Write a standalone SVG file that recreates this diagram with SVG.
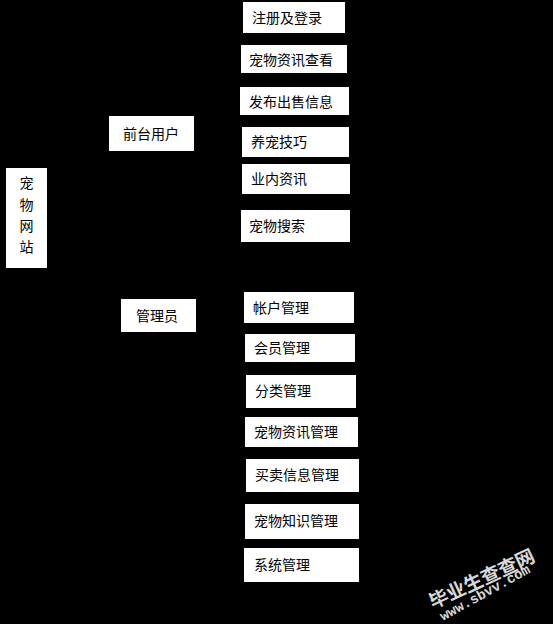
<svg xmlns="http://www.w3.org/2000/svg" width="553" height="624" viewBox="0 0 553 624">
<style>
.box{fill:#ffffff;stroke:none}
.t{font-family:"Noto Sans CJK SC","Liberation Sans",sans-serif;font-size:14px;fill:#000000}
.wm{font-family:"Noto Sans CJK SC","Liberation Sans",sans-serif;font-weight:bold;fill:#d8d8d8}
.wu{font-family:"Liberation Mono",monospace;font-weight:bold;fill:#d8d8d8}
.c{stroke:#000000;stroke-width:1.5;fill:none}
</style>
<rect x="0" y="0" width="553" height="624" fill="#000000"/>
<g id="connectors">
<line class="c" x1="191.5" y1="135.5" x2="200" y2="135.5"/>
</g>
<g id="n-site"><rect class="box" x="6" y="168" width="41" height="100"/>
<text class="t" x="26.5" y="188" text-anchor="middle">宠</text>
<text class="t" x="26.5" y="210" text-anchor="middle">物</text>
<text class="t" x="26.5" y="231" text-anchor="middle">网</text>
<text class="t" x="26.5" y="252" text-anchor="middle">站</text></g>
<g id="n-front"><rect class="box" x="109" y="116" width="85" height="35"/><text class="t" x="123" y="138.5">前台用户</text></g>
<g id="n-admin"><rect class="box" x="121" y="299" width="75" height="33"/><text class="t" x="136" y="320.5">管理员</text></g>
<g id="n1"><rect class="box" x="243" y="2" width="102" height="31"/><text class="t" x="252" y="22.5">注册及登录</text></g>
<g id="n2"><rect class="box" x="241" y="45" width="106" height="28"/><text class="t" x="249" y="64.5">宠物资讯查看</text></g>
<g id="n3"><rect class="box" x="240" y="87" width="109" height="28"/><text class="t" x="249" y="106.5">发布出售信息</text></g>
<g id="n4"><rect class="box" x="242" y="127" width="107" height="30"/><text class="t" x="251" y="147">养宠技巧</text></g>
<g id="n5"><rect class="box" x="242" y="164" width="108" height="30"/><text class="t" x="251" y="184">业内资讯</text></g>
<g id="n6"><rect class="box" x="241" y="210" width="109" height="32"/><text class="t" x="249" y="231">宠物搜索</text></g>
<g id="m1"><rect class="box" x="244" y="292" width="110" height="31"/><text class="t" x="253" y="312.5">帐户管理</text></g>
<g id="m2"><rect class="box" x="245" y="334" width="110" height="28"/><text class="t" x="254" y="353">会员管理</text></g>
<g id="m3"><rect class="box" x="246" y="375" width="110" height="33"/><text class="t" x="255" y="396">分类管理</text></g>
<g id="m4"><rect class="box" x="245" y="417" width="113" height="30"/><text class="t" x="254" y="437">宠物资讯管理</text></g>
<g id="m5"><rect class="box" x="246" y="459" width="113" height="33"/><text class="t" x="255" y="480">买卖信息管理</text></g>
<g id="m6"><rect class="box" x="245" y="504" width="114" height="35"/><text class="t" x="254" y="526">宠物知识管理</text></g>
<g id="m7"><rect class="box" x="244" y="548" width="115" height="34"/><text class="t" x="254" y="569.5">系统管理</text></g>
<g id="watermark">
<text class="wm" font-size="19" transform="translate(433,609) rotate(-25)">毕业生查查网</text>
<text class="wu" font-size="14" transform="translate(443,621) rotate(-29)">www.sbvv.com</text>
</g>
</svg>
